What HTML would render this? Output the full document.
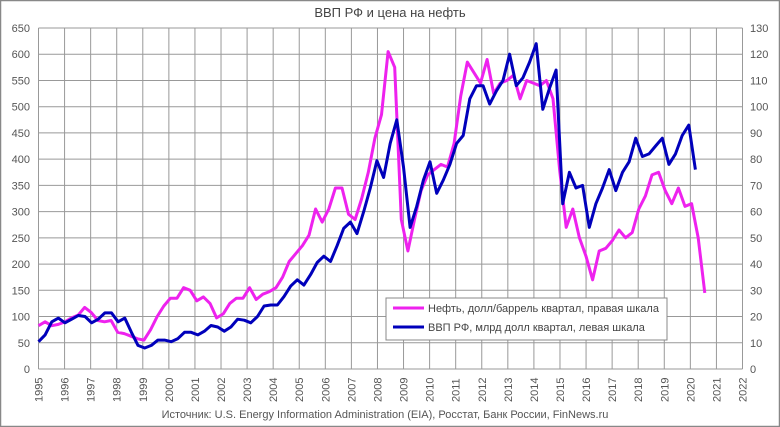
<!DOCTYPE html><html><head><meta charset="utf-8"><style>
html,body{margin:0;padding:0;background:#fff}
svg{display:block;font-family:"Liberation Sans","DejaVu Sans",sans-serif}
</style></head><body>
<svg id="s" width="780" height="427" xmlns="http://www.w3.org/2000/svg">
<rect x="0.5" y="0.5" width="779" height="426" fill="#fff" stroke="#888" stroke-width="1.5"/>
<text x="390" y="17" font-size="13" text-anchor="middle" fill="#444">ВВП РФ и цена на нефть</text>
<g id="grid"></g>
<g id="lines"></g>
<rect x="386" y="298" width="281" height="42" fill="#fff" stroke="#888"/>
<line x1="393" y1="308" x2="424" y2="308" stroke="#ee22ee" stroke-width="3"/>
<text x="428" y="312" font-size="11" fill="#444">Нефть, долл/баррель квартал, правая шкала</text>
<line x1="393" y1="327" x2="424" y2="327" stroke="#0000bb" stroke-width="3"/>
<text x="428" y="331" font-size="11" fill="#444">ВВП РФ, млрд долл квартал, левая шкала</text>
<text x="385" y="418" font-size="11" text-anchor="middle" fill="#555">Источник: U.S. Energy Information Administration (EIA), Росстат, Банк России, FinNews.ru</text>
</svg>
<script>
var L=38.5,R=742.5,T=28,B=369;
var X=function(y){return L+(y-1995)*(R-L)/27};
var Y=function(v){return B-v*(B-T)/650};
var g='';
for(var i=0;i<=13;i++){var y=Y(i*50);g+='<line x1="'+L+'" y1="'+y+'" x2="'+R+'" y2="'+y+'" stroke="#999" stroke-width="1"/>';
g+='<text x="30" y="'+(y+4)+'" font-size="11" text-anchor="end" fill="#555">'+(i*50)+'</text>';
g+='<text x="750" y="'+(y+4)+'" font-size="11" fill="#555">'+(i*10)+'</text>';}
for(var yr=1995;yr<=2022;yr++){var x=X(yr);g+='<line x1="'+x+'" y1="'+T+'" x2="'+x+'" y2="'+B+'" stroke="#999" stroke-width="1"/>';
g+='<text transform="translate('+(x+4)+',402) rotate(-90)" font-size="11" fill="#555">'+yr+'</text>';}
document.getElementById('grid').innerHTML=g;
var blue=[52,65,90,97,88,95,102,100,88,95,107,107,90,97,70,45,40,45,55,55,52,58,70,70,65,72,83,80,72,80,95,93,88,100,120,122,122,138,158,170,160,180,203,215,205,235,268,280,258,300,345,397,365,430,475,385,270,310,360,395,335,360,390,430,445,515,540,540,505,530,550,600,540,555,585,620,495,535,570,315,375,345,350,270,315,345,380,340,375,395,440,405,410,425,440,390,410,445,465,380];
var mag=[16.5,18,16.5,17,18,19.5,20.5,23.5,21.5,18.5,18,18.5,14,13.5,12.5,11.5,11,15,20,24,27,27,31,30,26,27.5,25,19.5,21,25,27,27,31,26.5,28.5,29.5,31,35,41,44,47,51,61,56,61,69,69,59,57,65,75,88,97,121,115,57,45,57,68,74,76,78,77,86,104,117,113,109,118,105,109,110,112,103,110,109,108,110,103,76,54,61,50,43,34,45,46,49,53,50,52,61,66,74,75,68,63,69,62,63,50,29];
function pts(a,m,f){var s=[];for(var i=0;i<a.length;i++)s.push(X(1995+i*0.25*f).toFixed(1)+','+Y(a[i]*m).toFixed(1));return s.join(' ');}
document.getElementById('lines').innerHTML='<polyline points="'+pts(mag,5,1.012)+'" fill="none" stroke="#ee22ee" stroke-width="3" stroke-linejoin="round"/>'+
'<polyline points="'+pts(blue,1,1.018)+'" fill="none" stroke="#0000bb" stroke-width="3" stroke-linejoin="round"/>';
</script>
</body></html>
